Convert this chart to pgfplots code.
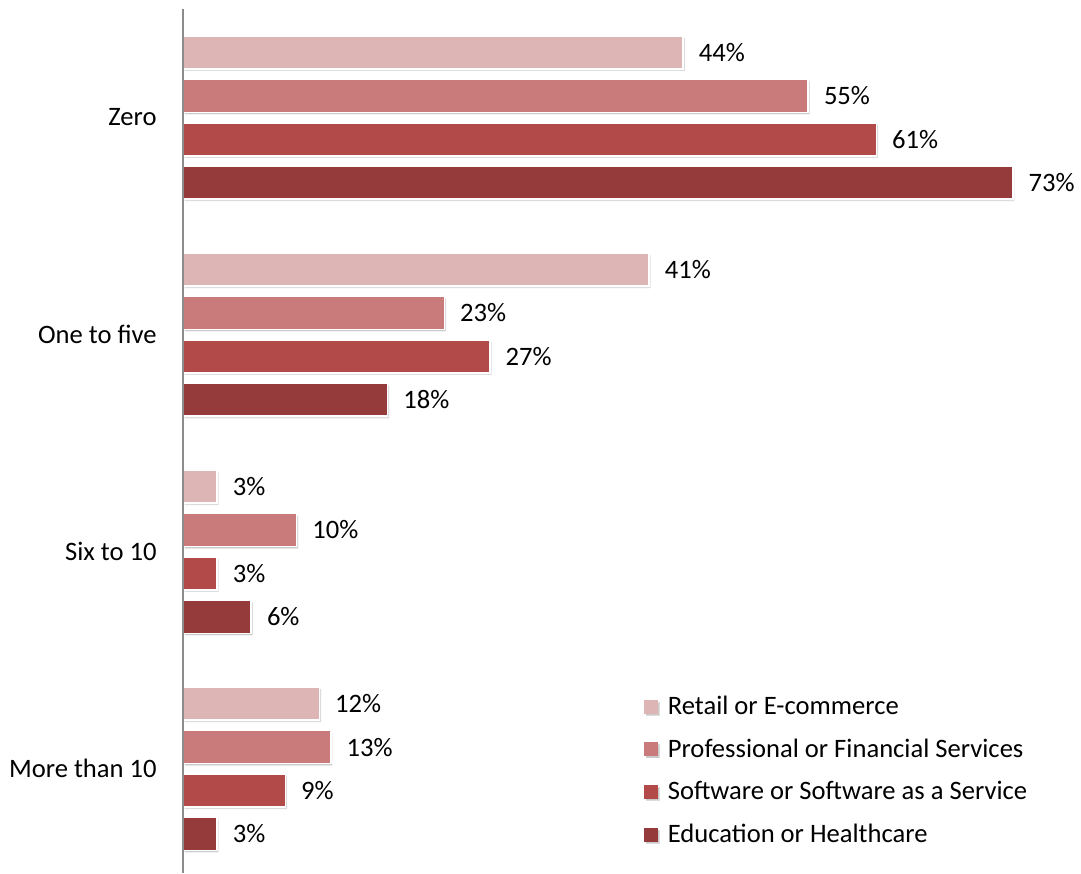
\documentclass[border=0pt]{standalone}
\usepackage{pgfplots}
\pgfplotsset{compat=1.18}
\usepackage{fontspec}
\setmainfont{Carlito}
\usetikzlibrary{shadows}

\definecolor{retail}{RGB}{221,181,181}
\definecolor{profsvc}{RGB}{201,123,123}
\definecolor{software}{RGB}{179,74,74}
\definecolor{eduhealth}{RGB}{149,59,59}

% y = category index + offset of the series (0 = Zero ... 3 = More than 10)
\pgfplotstableread{
y     v
-0.3  44
0.7   41
1.7   3
2.7   12
}\retail
\pgfplotstableread{
y     v
-0.1  55
0.9   23
1.9   10
2.9   13
}\prof
\pgfplotstableread{
y     v
0.1   61
1.1   27
2.1   3
3.1   9
}\soft
\pgfplotstableread{
y     v
0.3   73
1.3   18
2.3   6
3.3   3
}\edu

\begin{document}
\begin{tikzpicture}
\begin{axis}[
    scale only axis,
    width=449pt, height=432pt,
    xmin=0, xmax=79,
    ymin=-0.5, ymax=3.48,
    y dir=reverse,
    xbar, bar shift=0pt, bar width=0.152,
    axis x line=none,
    axis y line*=left,
    axis on top,
    y axis line style={draw=gray!90, line width=1pt, -},
    ytick={0,1,2,3},
    yticklabels={Zero, One to five, Six to 10, More than 10},
    major tick length=0pt,
    yticklabel style={font=\fontsize{13.3}{15}\selectfont, inner sep=0pt, xshift=-13pt},
    clip=false,
    point meta=x,
    nodes near coords={\pgfmathprintnumber{\pgfplotspointmeta}\%},
    nodes near coords style={font=\fontsize{13.3}{15}\selectfont, anchor=west, inner sep=0pt, xshift=7.5pt, text=black},
    /pgf/number format/assume math mode=true,
    every axis plot/.append style={draw=white, line width=0.8pt,
        drop shadow={shadow xshift=0.8pt, shadow yshift=-1pt, opacity=0.35, fill=black!60}},
    legend image code/.code={\fill[#1, draw=none] (0pt,-3.5pt) rectangle (7pt,3.5pt); \path (9.5pt,0pt);},
    legend style={at={(0.513,0.21)}, anchor=north west, draw=none, fill=none,
        font=\fontsize{13.3}{15}\selectfont, row sep=6.6pt, inner sep=0pt},
    legend cell align=left,
]
\addplot[fill=retail] table[x=v, y=y] {\retail};
\addplot[fill=profsvc] table[x=v, y=y] {\prof};
\addplot[fill=software] table[x=v, y=y] {\soft};
\addplot[fill=eduhealth] table[x=v, y=y] {\edu};
\legend{Retail or E-commerce, Professional or Financial Services, Software or Software as a Service, Education or Healthcare}
\end{axis}
\pgfresetboundingbox
\path ([xshift=-91.5pt]current axis.south west) rectangle ([yshift=4.5pt]current axis.north east);
\end{tikzpicture}
\end{document}
